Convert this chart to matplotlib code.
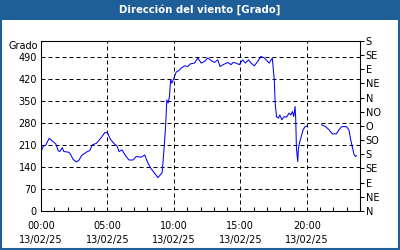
import numpy as np
import pandas as pd
import matplotlib
matplotlib.use("Agg")
import matplotlib.pyplot as plt
import matplotlib.dates as mdates
from matplotlib.patches import Rectangle

# wind direction readings, 13/02/25 (NaN = missing data)
times = ["00:00", "00:10", "00:22", "00:37", "00:55", "01:07", "01:18", "01:25", "01:36", "01:43",
         "02:03", "02:10", "02:25", "02:40", "02:52", "03:03", "03:25", "03:40", "03:52", "04:10",
         "04:33", "04:48", "05:00", "05:13", "05:33", "05:43", "05:52", "06:06", "06:22", "06:37",
         "06:55", "07:10", "07:33", "07:48", "08:03", "08:18", "08:33", "08:48", "09:07", "09:15",
         "09:22", "09:28", "09:34", "09:40", "09:45", "09:51", "10:00", "10:10", "10:22", "10:33",
         "10:48", "11:03", "11:13", "11:33", "11:48", "12:03", "12:18", "12:33", "12:48", "13:03",
         "13:18", "13:28", "13:43", "14:03", "14:18", "14:28", "14:40", "14:55", "15:10", "15:22",
         "15:37", "15:48", "16:03", "16:18", "16:33", "16:48", "17:10", "17:24", "17:33", "17:37",
         "17:43", "17:52", "17:58", "18:07", "18:18", "18:28", "18:40", "18:48", "18:55", "19:01",
         "19:07", "19:10", "19:13", "19:19", "19:22", "19:28", "19:37", "19:43", "19:52", "20:03",
         "20:30", "21:07", "21:25", "21:40", "21:55", "22:13", "22:25", "22:37", "22:58", "23:10",
         "23:18", "23:25", "23:33", "23:40", "23:43"]
direction = [189, 205, 210, 231, 220, 213, 191, 189, 201, 189,
             187, 184, 164, 156, 162, 176, 187, 192, 210, 215,
             234, 249, 249, 228, 212, 207, 189, 194, 175, 162,
             162, 173, 171, 178, 152, 133, 120, 106, 122, 194,
             263, 353, 343, 364, 417, 406, 422, 441, 446, 454,
             461, 459, 467, 470, 486, 470, 475, 486, 478, 472,
             480, 459, 465, 472, 465, 472, 470, 465, 480, 470,
             480, 470, 461, 475, 491, 486, 470, 486, 417, 343,
             300, 295, 305, 290, 300, 298, 311, 305, 316, 300,
             332, 290, 199, 157, 199, 220, 242, 258, 268, 270,
             np.nan, 274, 268, 258, 245, 245, 258, 268, 268, 258,
             226, 205, 180, 173, 176]

hour_labels = ["00:00", "05:00", "10:00", "15:00", "20:00"]
left_ticks = [0, 70, 140, 210, 280, 350, 420, 490]
right_ticks = [0, 45, 90, 135, 180, 225, 270, 315, 360, 405, 450, 495, 540]
right_labels = ["N", "NE", "E", "SE", "S", "SO", "O", "NO", "N", "NE", "E", "SE", "S"]

blue_bar = "#1f5f99"

df = pd.DataFrame({"t": pd.to_datetime(["2025-02-13 " + t for t in times]), "dir": direction})

plt.rcParams["font.family"] = ["DejaVu Sans"]
fig = plt.figure(figsize=(4, 2.5), dpi=100)
fig.patch.set_facecolor("white")

ax = fig.add_axes([41 / 400, 1 - 211 / 250, 319 / 400, 170 / 250])
ax.plot(df.t, df.dir, color="#0000ff", linewidth=0.75)

t0 = pd.Timestamp("2025-02-13 00:00")
ax.set_xlim(t0, t0 + pd.Timedelta(hours=24))
ax.set_ylim(0, 540)

ax.set_xticks(pd.to_datetime(["2025-02-13 " + h for h in hour_labels]))
ax.xaxis.set_major_formatter(mdates.DateFormatter("%H:%M\n%d/%m/%y"))
ax.xaxis.set_minor_locator(mdates.HourLocator(interval=1))
ax.tick_params(axis="x", which="major", length=0, pad=7, labelsize=7)
ax.tick_params(axis="x", which="minor", direction="in", length=3, width=0.75)
for lbl in ax.get_xticklabels():
    lbl.set_linespacing(1.55)

ax.set_yticks(left_ticks)
ax.tick_params(axis="y", length=0, pad=3, labelsize=7)

ax.grid(True, which="major", color="black", linestyle=(0, (4, 3)), linewidth=0.72)
for s in ax.spines.values():
    s.set_linewidth(0.75)

ax2 = ax.twinx()
ax2.set_ylim(0, 540)
ax2.set_yticks(right_ticks)
ax2.set_yticklabels(right_labels)
ax2.tick_params(axis="y", length=3, width=0.75, pad=1, labelsize=7)
for s in ax2.spines.values():
    s.set_linewidth(0.75)

fig.text(38 / 400, 1 - 46 / 250, "Grado", ha="right", va="center", fontsize=7)

# title bar and outer frame
fig.patches.append(Rectangle((0, 1 - 20 / 250), 1, 20 / 250, transform=fig.transFigure,
                             facecolor=blue_bar, edgecolor="none", zorder=0))
fig.patches.append(Rectangle((0.002, 0.004), 0.995, 0.99, transform=fig.transFigure,
                             fill=False, edgecolor=blue_bar, linewidth=1.5, zorder=0))
fig.text(0.5, 1 - 10 / 250, "Dirección del viento [Grado]", ha="center", va="center",
         color="white", fontsize=7.3, fontweight="bold")

fig.savefig("out.png", dpi=100)
